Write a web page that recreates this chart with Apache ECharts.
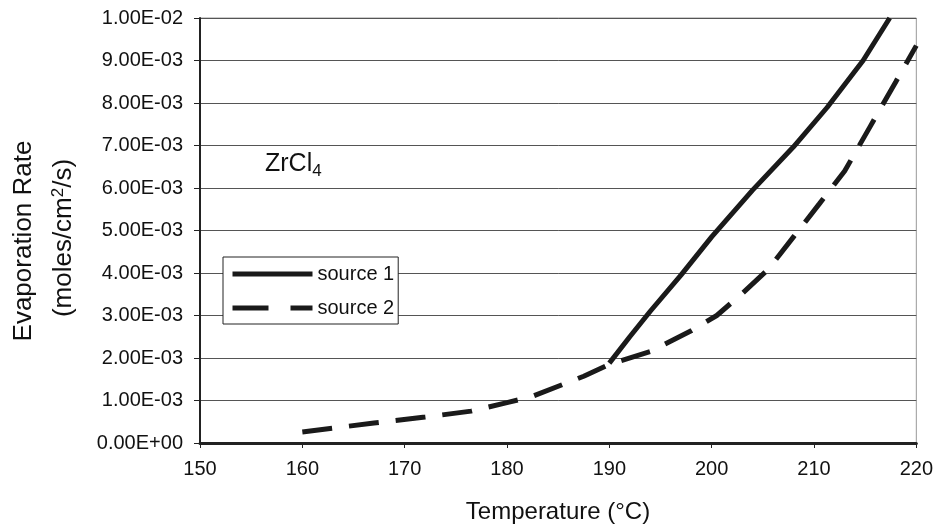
<!DOCTYPE html>
<html>
<head>
<meta charset="utf-8">
<script src="https://cdn.jsdelivr.net/npm/echarts@6/dist/echarts.min.js"></script>
<style>html,body{margin:0;padding:0;background:#fff;}#chart{width:936px;height:531px;}</style>
</head>
<body>
<div id="chart"></div>
<script>
// Data
var tempSource1 = [190, 192, 194, 197, 200, 204, 208, 211.3, 214.8, 217.4];
var rateSource1 = [0.00188, 0.0025, 0.0031, 0.00395, 0.00485, 0.00595, 0.00697, 0.0079, 0.0090, 0.0100];
var tempSource2 = [160, 167, 172, 176.5, 180, 182.5, 187.5, 190, 194, 198, 200.5, 203, 205.5, 208, 210.5, 213, 215.5, 218, 220];
var rateSource2 = [0.00026, 0.00047, 0.00061, 0.00075, 0.00095, 0.0011, 0.00157, 0.00185, 0.00215, 0.00264, 0.0030, 0.00352, 0.00408, 0.00485, 0.00562, 0.0064, 0.00745, 0.0085, 0.00935];
var seriesNames = ['source 1', 'source 2'];
var xAxisTitle = 'Temperature (°C)';
var yAxisTitle1 = 'Evaporation Rate';
var yAxisTitle2 = '(moles/cm{sup|2}/s)';
var annotation = 'ZrCl{sub|4}';

function zip(a, b) { return a.map(function (v, i) { return [v, b[i]]; }); }
function sciFmt(v) {
  if (v === 0) return '0.00E+00';
  var e = Math.floor(Math.log10(Math.abs(v)) + 1e-9);
  var m = v / Math.pow(10, e);
  var ae = Math.abs(e);
  return m.toFixed(2) + 'E' + (e < 0 ? '-' : '+') + (ae < 10 ? '0' : '') + ae;
}

var FONT = 'Arial, "Liberation Sans", sans-serif';
var chart = echarts.init(document.getElementById('chart'), null, {renderer: 'canvas'});
chart.setOption({
  backgroundColor: '#fff',
  animation: false,
  grid: {left: 200, right: 19, top: 18, bottom: 88, show: true, borderColor: '#999', borderWidth: 1},
  xAxis: {
    type: 'value', min: 150, max: 220, interval: 10,
    axisLine: {show: true, onZero: false, lineStyle: {color: '#222', width: 3}},
    axisTick: {show: true, length: 5, lineStyle: {color: '#222'}},
    axisLabel: {margin: 16, fontSize: 20, color: '#111', fontFamily: FONT},
    splitLine: {show: false}
  },
  yAxis: {
    type: 'value', min: 0, max: 0.01, interval: 0.001,
    axisLine: {show: true, lineStyle: {color: '#222', width: 2}},
    axisTick: {show: true, length: 6, lineStyle: {color: '#222'}},
    axisLabel: {margin: 17, fontSize: 20, color: '#111', fontFamily: FONT, formatter: sciFmt},
    splitLine: {show: true, lineStyle: {color: '#555', width: 1}}
  },
  legend: {
    orient: 'vertical', left: 223, top: 257,
    padding: [7, 4, 6, 7], itemWidth: 80, itemHeight: 14, itemGap: 14,
    borderColor: '#222', borderWidth: 1, backgroundColor: '#fff',
    textStyle: {fontSize: 20, color: '#111', fontFamily: FONT},
    itemStyle: {opacity: 0},
    data: [
      {name: seriesNames[0], itemStyle: {opacity: 0}, lineStyle: {color: '#1a1a1a', width: 5, type: 'solid'}},
      {name: seriesNames[1], itemStyle: {opacity: 0}, lineStyle: {color: '#1a1a1a', width: 5, type: [36, 22]}}
    ]
  },
  graphic: [
    {type: 'text', left: 265, top: 152, style: {text: annotation, fontSize: 25, fill: '#111', fontFamily: FONT,
      rich: {sub: {fontSize: 17, fill: '#111', fontFamily: FONT, padding: [14, 0, 0, 0]}}}},
    {type: 'text', x: 24, y: 241, rotation: Math.PI / 2, style: {text: yAxisTitle1, fontSize: 26, fill: '#111', fontFamily: FONT, align: 'center', verticalAlign: 'middle'}},
    {type: 'text', x: 64, y: 238, rotation: Math.PI / 2, style: {text: yAxisTitle2, fontSize: 26, fill: '#111', fontFamily: FONT, align: 'center', verticalAlign: 'middle',
      rich: {sup: {fontSize: 17, fill: '#111', fontFamily: FONT, padding: [0, 0, 12, 0]}}}},
    {type: 'text', x: 558, y: 512, style: {text: xAxisTitle, fontSize: 24, fill: '#111', fontFamily: FONT, align: 'center', verticalAlign: 'middle'}}
  ],
  series: [
    {name: seriesNames[0], type: 'line', data: zip(tempSource1, rateSource1), symbol: 'none', smooth: false,
      lineStyle: {color: '#1a1a1a', width: 5, type: 'solid', cap: 'butt'}, itemStyle: {color: '#1a1a1a'}, z: 3},
    {name: seriesNames[1], type: 'line', data: zip(tempSource2, rateSource2), symbol: 'none', smooth: false,
      lineStyle: {color: '#1a1a1a', width: 5, type: [30, 17], cap: 'butt'}, itemStyle: {color: '#1a1a1a'}, z: 2}
  ]
});
</script>
</body>
</html>
